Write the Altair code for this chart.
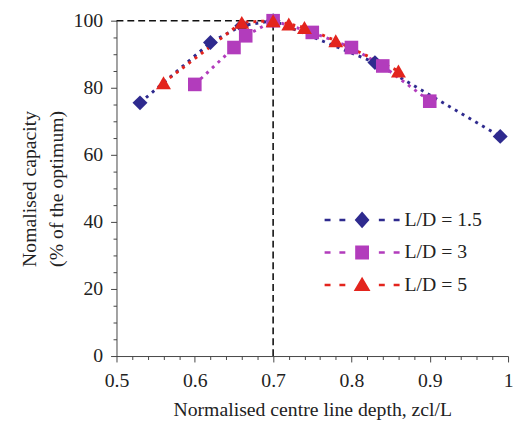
import altair as alt
import pandas as pd

series_names = ["L/D = 1.5", "L/D = 3", "L/D = 5"]
series_colors = ["#2e2a8e", "#b23cbc", "#e3241d"]
series_shapes = ["diamond", "square", "triangle-up"]
series_sizes = [230, 190, 230]

x_15 = [0.53, 0.62, 0.66, 0.70, 0.83, 0.99]
y_15 = [75.5, 93.5, 98.5, 100.0, 87.5, 65.5]
x_3 = [0.60, 0.65, 0.665, 0.70, 0.75, 0.80, 0.84, 0.90]
y_3 = [81.0, 92.0, 95.5, 100.0, 96.5, 92.0, 86.5, 76.0]
x_5 = [0.56, 0.66, 0.70, 0.72, 0.74, 0.78, 0.86]
y_5 = [81.5, 99.5, 100.0, 99.0, 98.0, 94.0, 85.0]

opt_x = 0.7
opt_y = 100.0
x_min, x_max = 0.5, 1.0
y_min, y_max = 0.0, 100.0
x_ticks = [round(0.5 + 0.02 * i, 2) for i in range(26)]
y_ticks = [5 * i for i in range(21)]

x_title = "Normalised centre line depth, zcl/L"
y_title = ["Nomalised capacity", "(% of the optimum)"]

rows = []
for name, xs, ys in zip(series_names, [x_15, x_3, x_5], [y_15, y_3, y_5]):
    for xv, yv in zip(xs, ys):
        rows.append({"series": name, "x": xv, "y": yv})
df = pd.DataFrame(rows)

ref = pd.DataFrame([
    {"x": x_min, "x2": opt_x, "y": opt_y, "y2": opt_y},
    {"x": opt_x, "x2": opt_x, "y": y_min, "y2": opt_y},
])

# legend symbols: dashed line with marker in the middle (filled paths)
def dashes():
    parts = []
    for a, b in [(-3.8, -3.2), (-2.3, -1.7), (1.7, 2.3), (3.2, 3.8)]:
        parts.append(f"M{a},-0.13H{b}V0.13H{a}Z")
    return "".join(parts)

legend_paths = [
    dashes() + "M0,-0.85L0.75,0L0,0.85L-0.75,0Z",
    dashes() + "M-0.7,-0.7H0.7V0.7H-0.7Z",
    dashes() + "M0,-0.85L0.85,0.6L-0.85,0.6Z",
]

FONT = "Liberation Serif"
TXT = "#222222"
major_x = "abs(datum.value*10 - round(datum.value*10)) < 0.001"
major_y = "datum.value % 20 == 0"

xs = alt.Scale(domain=[x_min, x_max], nice=False, zero=False)
ys = alt.Scale(domain=[y_min, y_max], nice=False)
cs = alt.Scale(domain=series_names, range=series_colors)

x_axis = alt.Axis(
    title=x_title, values=x_ticks, grid=False,
    labelExpr=f"{major_x} ? format(datum.value, '~g') : ''",
    tickSize={"condition": {"test": major_x, "value": 6}, "value": 3.5},
    labelOverlap=False, labelFlush=False, labelPadding=9, titlePadding=9,
)
y_axis = alt.Axis(
    title=y_title, values=y_ticks, grid=False,
    labelExpr=f"{major_y} ? datum.label : ''",
    tickSize={"condition": {"test": major_y, "value": 6}, "value": 3.5},
    labelOverlap=False, labelPadding=8, titlePadding=7, titleLineHeight=27,
)

X = alt.X("x:Q", scale=xs, axis=x_axis)
Y = alt.Y("y:Q", scale=ys, axis=y_axis)

leg = dict(
    orient="none", legendX=239, legendY=192, title=None,
    symbolSize=400, symbolOpacity=1, symbolStrokeWidth=0,
    labelFont=FONT, labelFontSize=20, labelColor=TXT, labelOffset=33,
    rowPadding=13, padding=0,
)

ref_layer = alt.Chart(ref).mark_rule(color="#111111", strokeWidth=1.6, strokeDash=[7, 4]).encode(
    x=alt.X("x:Q", scale=xs, axis=x_axis), x2="x2:Q",
    y=alt.Y("y:Q", scale=ys, axis=y_axis), y2="y2:Q",
)

lines = alt.Chart(df).mark_line(strokeDash=[3, 5], strokeWidth=3).encode(
    x=X, y=Y, color=alt.Color("series:N", scale=cs, legend=alt.Legend(**leg)), detail="series:N",
    order="x:Q",
)

point_layers = []
for name, shp, sz in zip(series_names, series_shapes, series_sizes):
    point_layers.append(
        alt.Chart(df).transform_filter(alt.datum.series == name)
        .mark_point(filled=True, shape=shp, size=sz, opacity=1)
        .encode(x=X, y=Y, color=alt.Color("series:N", scale=cs, legend=alt.Legend(**leg)))
    )

legend_layer = alt.Chart(df).mark_point(filled=True, opacity=0).encode(
    x=X, y=Y,
    color=alt.Color("series:N", scale=cs, legend=alt.Legend(**leg)),
    shape=alt.Shape("series:N", scale=alt.Scale(domain=series_names, range=legend_paths),
                    legend=alt.Legend(**leg)),
)

chart = alt.layer(ref_layer, lines, *point_layers, legend_layer).properties(
    width=397, height=340, padding={"left": 12, "top": 0, "right": 0, "bottom": 0}
).configure_view(stroke=None).configure_axis(
    labelFont=FONT, labelFontSize=20, labelColor=TXT,
    titleFont=FONT, titleFontSize=20, titleFontWeight="normal", titleColor=TXT,
    domainColor="#444444", tickColor="#444444",
)

chart.save("out.html", embed_options={"renderer": "svg", "actions": False})
